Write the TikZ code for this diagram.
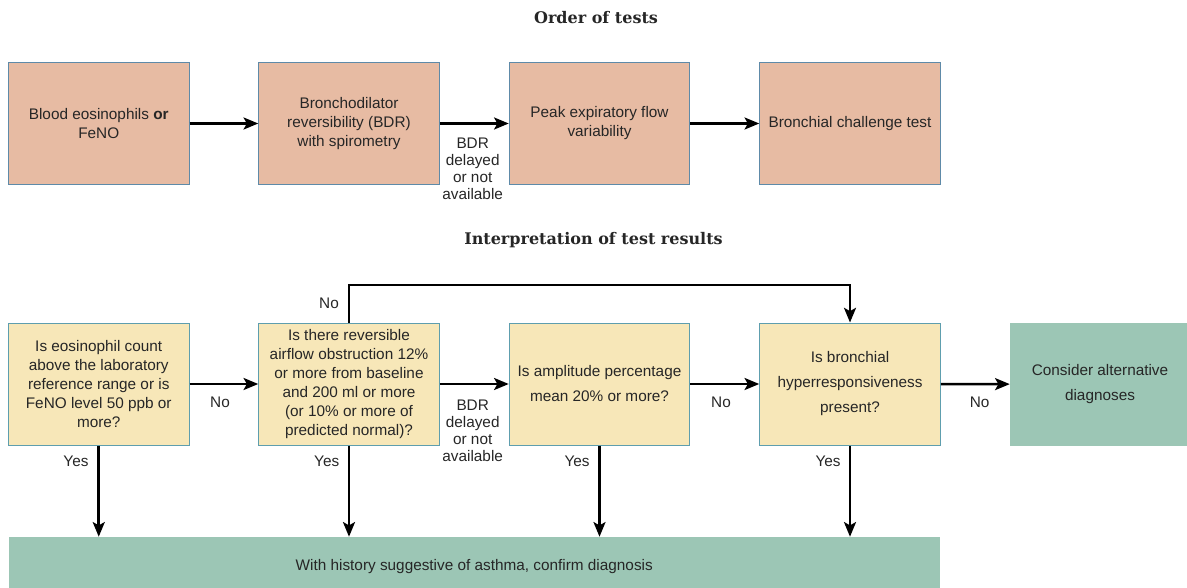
\documentclass[tikz,border=0pt]{standalone}
\usepackage{fontspec}
\setmainfont{Liberation Sans}
\newfontfamily\headfont{DejaVu Serif}
\usetikzlibrary{arrows.meta,positioning}
\definecolor{ink}{HTML}{262626}
\definecolor{testfill}{HTML}{E7BBA3}
\definecolor{testline}{HTML}{5E8AA8}
\definecolor{askfill}{HTML}{F7E7B8}
\definecolor{askline}{HTML}{5E9EAE}
\definecolor{endfill}{HTML}{9CC6B5}

\begin{document}
\begin{tikzpicture}[x=0.75pt,y=-0.75pt,
		every node/.style={text=ink, font=\fontsize{11.5}{14.25}\selectfont},
		testbox/.style={draw=testline, fill=testfill, line width=0.75pt, minimum width=135.4pt, minimum height=91.5pt, align=center, inner sep=0pt},
		askbox/.style={testbox, draw=askline, fill=askfill},
		endbox/.style={fill=endfill, align=center, inner sep=0pt},
		arr/.style={line width=1.9pt, -{Stealth[length=11pt,width=9pt,inset=2.5pt]}},
		lbl/.style={align=center, inner sep=0pt},
		loose/.style={font=\fontsize{11.5}{18.75}\selectfont},
		tight/.style={font=\fontsize{11.5}{12.75}\selectfont},
		head/.style={font=\headfont\bfseries\fontsize{12}{14}\selectfont, inner sep=0pt}]
			\useasboundingbox (0,0) rectangle (1187,588);
			% order of tests
			\node[head] (head1) at (596,18) {Order of tests};
			\node[testbox] (blood) at (98.75,123.5) {Blood eosinophils \textbf{or}\\FeNO};
			\node[testbox] (bdr) at (349,123.5) {Bronchodilator\\reversibility (BDR)\\with spirometry};
			\node[testbox] (pef) at (599.5,123.5) {Peak expiratory flow\\variability};
			\node[testbox] (bct) at (850,123.5) {Bronchial challenge test};
			\draw[arr] (blood) -- (bdr);
			\draw[arr] (bdr) -- (pef);
			\draw[arr] (pef) -- (bct);
			\node[lbl, tight] (delay1) at (472.7,169) {BDR\\delayed\\or not\\available};
			% interpretation of test results
			\node[head] (head2) at (593.5,240) {Interpretation of test results};
			\node[askbox] (eos) at (98.75,384) {Is eosinophil count\\above the laboratory\\reference range or is\\FeNO level 50 ppb or\\more?};
			\node[askbox] (rev) at (349,384) {Is there reversible\\airflow obstruction 12\%\\or more from baseline\\and 200 ml or more\\(or 10\% or more of\\predicted normal)?};
			\node[askbox, loose] (amp) at (599.5,384) {Is amplitude percentage\\mean 20\% or more?};
			\node[askbox, loose] (bhr) at (850,384) {Is bronchial\\hyperresponsiveness\\present?};
			\node[endbox, loose, minimum width=135pt, minimum height=92.25pt] (alt) at (1100,384.2) {Consider alternative\\diagnoses};
			\node[endbox, minimum width=698.6pt, minimum height=45pt] (confirm) at (474.25,567) {With history suggestive of asthma, confirm diagnosis};
			\coordinate (over) at (0,285);
			\draw[arr] (eos) -- (rev);
			\draw[arr] (rev) -- (amp);
			\draw[arr] (amp) -- (bhr);
			\draw[arr] (bhr) -- (alt);
			\draw[arr] (rev.north) -- (rev.north |- over) -| (bhr.north);
			\foreach \q in {eos,rev,amp,bhr} {
				\draw[arr] (\q.south) -- (\q.south |- confirm.north);
			}
			\node[lbl] (no1) at (220,402) {No};
			\node[lbl] (no2) at (721,402) {No};
			\node[lbl] (no3) at (979.6,402) {No};
			\node[lbl] (no4) at (329,303) {No};
			\node[lbl, tight] (delay2) at (472.7,430.5) {BDR\\delayed\\or not\\available};
			\node[lbl] (yes1) at (76,461.5) {Yes};
			\node[lbl] (yes2) at (326.7,461.5) {Yes};
			\node[lbl] (yes3) at (577,461.5) {Yes};
			\node[lbl] (yes4) at (828,461.5) {Yes};
		\end{tikzpicture}
\end{document}
